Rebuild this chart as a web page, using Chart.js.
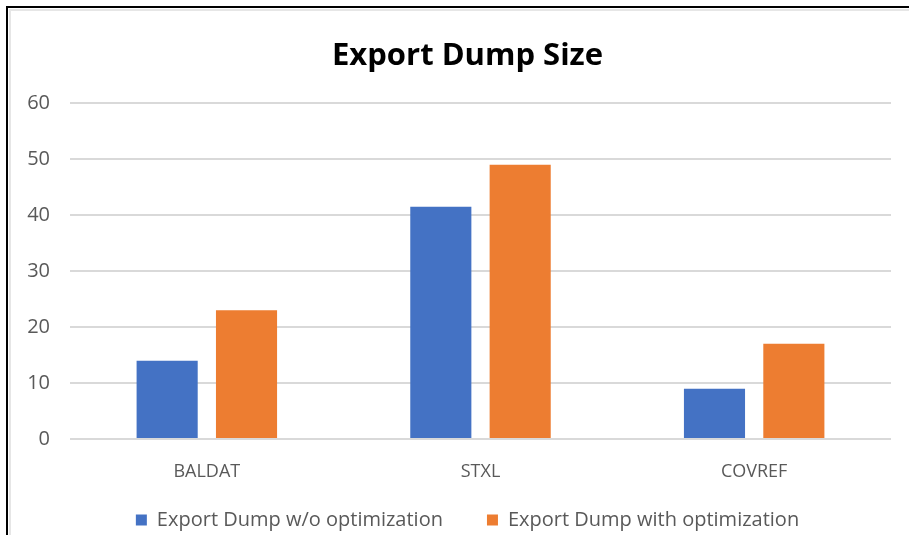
<!DOCTYPE html>
<html>
<head>
<meta charset="utf-8">
<script src="https://cdn.jsdelivr.net/npm/chart.js@4"></script>
<style>
  html, body { margin: 0; padding: 0; background: #ffffff; }
  body { width: 909px; height: 535px; position: relative; overflow: hidden; }
  #frame {
    position: absolute; left: 6px; top: 6px; right: 0; bottom: 0;
    border-top: 2px solid #000000; border-left: 2px solid #000000;
  }
  #box {
    position: absolute; left: 9px; top: 9px; width: 900px; height: 526px;
    box-sizing: border-box; border-top: 2px solid #e6e6e6; border-left: 2px solid #e6e6e6;
  }
  #wrap { position: absolute; left: 9px; top: 9px; width: 900px; height: 531px; }
</style>
</head>
<body>
<div id="frame"></div>
<div id="box"></div>
<div id="wrap"><canvas id="chart"></canvas></div>
<script>
// Export dump sizes per table, with and without optimization
const categories = ['BALDAT', 'STXL', 'COVREF'];
const withoutOptimization = [14, 41.5, 9];
const withOptimization = [23, 49, 17];
const seriesNames = ['Export Dump w/o optimization', 'Export Dump with optimization'];
const yTicks = [0, 10, 20, 30, 40, 50, 60];

const fontFamily = '"Open Sans", "DejaVu Sans", sans-serif';
const textGray = '#595959';

new Chart(document.getElementById('chart'), {
  type: 'bar',
  data: {
    labels: categories,
    datasets: [
      { label: seriesNames[0], data: withoutOptimization, backgroundColor: '#4472C4' },
      { label: seriesNames[1], data: withOptimization, backgroundColor: '#ED7D31' }
    ]
  },
  options: {
    responsive: true,
    maintainAspectRatio: false,
    animation: false,
    categoryPercentage: 0.58,
    barPercentage: 0.77,
    layout: { padding: { left: 17, right: 0, top: 0, bottom: 0 } },
    plugins: {
      title: {
        display: true,
        text: 'Export Dump Size',
        color: '#000000',
        font: { family: fontFamily, size: 31, weight: 'bold' },
        padding: { top: 29, bottom: 28 }
      },
      legend: {
        position: 'bottom',
        labels: {
          color: textGray,
          font: { family: fontFamily, size: 20 },
          boxWidth: 11,
          boxHeight: 11,
          padding: 44
        }
      },
      tooltip: { enabled: false }
    },
    scales: {
      x: {
        grid: { display: false, drawTicks: false },
        border: { display: false },
        // category names sit below the plot, reaching into the legend's top spacing
        ticks: { color: textGray, font: { family: fontFamily, size: 18 }, mirror: true, padding: -44 },
        afterFit: (axis) => {
          axis.height = 27;
          axis.paddingLeft = 0;
          axis.paddingRight = 18; // keeps the plot clear of the right edge
        }
      },
      y: {
        min: 0,
        max: 60,
        afterBuildTicks: (axis) => { axis.ticks = yTicks.map(v => ({ value: v })); },
        grid: { color: '#d9d9d9', lineWidth: 2, drawTicks: false },
        border: { display: false },
        ticks: { color: textGray, font: { family: fontFamily, size: 20 }, padding: 20 },
        afterFit: (axis) => { axis.width = 44; }
      }
    }
  }
});
</script>
</body>
</html>
